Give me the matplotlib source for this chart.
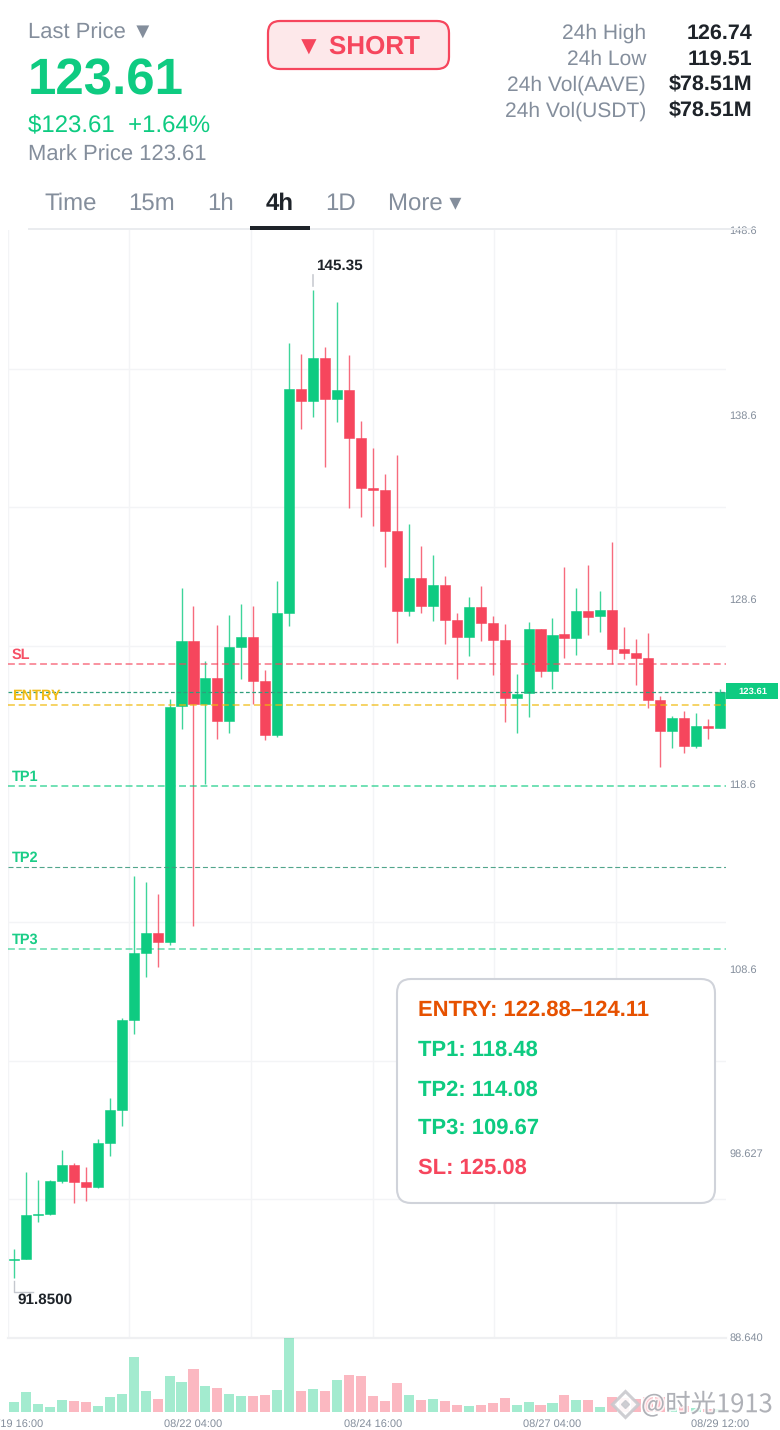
"""
AAVE/USDT 4h candle screen with short signal levels.
"""

from __future__ import annotations

import matplotlib

matplotlib.use("Agg")  # no display
import matplotlib.patheffects as pe
import matplotlib.pyplot as plt
from matplotlib.patches import FancyBboxPatch, Rectangle

# candles, oldest first
opens = [
    92.80, 92.87, 95.25, 95.29, 97.11, 97.96, 97.04, 96.79, 99.17, 100.94,
    105.82, 109.45, 110.51, 110.06, 122.83, 126.35, 122.93, 124.34, 122.03, 126.04,
    126.56, 124.16, 121.27, 127.86, 140.00, 139.35, 141.66, 139.44, 139.93, 137.34,
    134.62, 134.53, 132.32, 127.97, 129.78, 128.23, 129.38, 127.47, 126.55, 128.17,
    127.32, 126.40, 123.27, 123.51, 126.98, 124.72, 126.71, 126.51, 127.96, 127.68,
    128.03, 125.90, 125.70, 125.42, 123.15, 121.47, 122.16, 120.66, 121.73, 121.65,
]
highs = [
    93.41, 97.60, 97.15, 97.15, 98.77, 98.07, 97.85, 99.37, 101.59, 105.92,
    113.62, 113.29, 112.64, 123.20, 129.22, 128.24, 125.26, 127.21, 127.75, 128.35,
    128.24, 124.78, 129.60, 142.51, 141.91, 145.35, 142.29, 144.73, 141.84, 138.26,
    136.80, 135.39, 136.42, 132.67, 131.51, 131.01, 129.87, 127.85, 128.71, 129.31,
    127.68, 127.25, 124.56, 127.36, 127.00, 127.61, 130.37, 129.20, 130.46, 129.05,
    131.69, 127.10, 126.47, 126.76, 123.37, 122.30, 122.54, 122.46, 122.10, 123.73,
]
lows = [
    91.85, 92.85, 94.89, 95.25, 96.99, 95.90, 96.03, 96.72, 98.46, 100.09,
    105.06, 108.16, 108.67, 109.88, 121.58, 110.92, 118.60, 121.04, 121.35, 124.30,
    122.93, 120.98, 121.16, 127.16, 137.85, 138.48, 135.79, 138.19, 133.57, 133.08,
    132.59, 130.36, 126.24, 127.72, 127.88, 127.43, 126.18, 124.27, 125.53, 126.36,
    124.52, 121.97, 121.35, 122.21, 124.38, 123.75, 125.44, 125.59, 126.67, 126.85,
    125.10, 125.37, 123.95, 122.70, 119.52, 120.57, 120.26, 120.57, 121.02, 121.62,
]
closes = [
    92.85, 95.25, 95.30, 97.09, 97.96, 97.06, 96.79, 99.17, 100.94, 105.82,
    109.45, 110.51, 110.06, 122.79, 126.35, 122.93, 124.34, 122.03, 126.01, 126.56,
    124.16, 121.27, 127.86, 140.00, 139.35, 141.66, 139.46, 139.93, 137.34, 134.62,
    134.53, 132.32, 127.97, 129.78, 128.23, 129.38, 127.47, 126.55, 128.20, 127.32,
    126.40, 123.27, 123.49, 126.98, 124.72, 126.69, 126.53, 127.96, 127.66, 128.03,
    125.91, 125.71, 125.44, 123.17, 121.49, 122.16, 120.64, 121.73, 121.63, 123.61,
]
volumes = [
    10, 19.7, 8, 5.3, 12.3, 11, 9.7, 6, 15, 17.7,
    55.3, 21, 13, 36, 30, 43, 25.7, 23.7, 18, 16,
    15.7, 16.7, 21.7, 74, 21, 23, 21, 32, 37.3, 35.7,
    15.7, 10.7, 28.7, 16.7, 12, 13, 10.7, 7, 6, 7,
    9, 14.3, 7.3, 10, 7.3, 8.7, 17, 12.3, 12, 4.7,
    14.7, 14, 13, 15.3, 15.3, 3.7, 6, 4, 3, 3.3,
]

price_ticks = [148.6, 138.6, 128.6, 118.6, 108.6, 98.627, 88.640]
price_tick_labels = ["148.6", "138.6", "128.6", "118.6", "108.6", "98.627", "88.640"]
grid_prices = [141.1, 133.6, 126.1, 118.6, 111.1, 103.6, 96.1]
grid_candles = [-0.5, 9.65, 19.8, 30.0, 40.1, 50.3]
date_ticks = [0, 15, 30, 45, 59]
date_labels = ["08/19 16:00", "08/22 04:00", "08/24 16:00", "08/27 04:00", "08/29 12:00"]

last_price = 123.61
high_candle, high_price = 25, 145.35
low_candle, low_price = 0, 91.85

level_names = ["SL", "ENTRY", "TP1", "TP2", "TP3"]
level_prices = [125.08, 122.88, 118.48, 114.08, 109.67]

stat_names = ["24h High", "24h Low", "24h Vol(AAVE)", "24h Vol(USDT)"]
stat_values = ["126.74", "119.51", "$78.51M", "$78.51M"]
tab_names = ["Time", "15m", "1h", "4h", "1D", "More ▾"]
signal_lines = ["ENTRY: 122.88–124.11", "TP1: 118.48", "TP2: 114.08", "TP3: 109.67", "SL: 125.08"]

GREEN = "#0ecb81"
RED = "#f6465d"
YELLOW = "#f0b90b"
ORANGE = "#e65100"
GRAY = "#848e9c"
DARK = "#1e2329"
GRID = "#f3f4f6"
W, H = 780, 1430
SANS = ["Liberation Sans", "DejaVu Sans"]

plt.rcParams["font.family"] = SANS
plt.rcParams["text.hinting"] = "no_hinting"


def px(size):
    return size * 0.72


def axes_box(left, top, right, bottom):
    return [left / W, 1 - bottom / H, (right - left) / W, (bottom - top) / H]


fig = plt.figure(figsize=(W / 100, H / 100), dpi=100, facecolor="white")

# price panel
ax = fig.add_axes(axes_box(8, 230, 726, 1338))
ax.set_xlim(-0.5, 59.5)
ax.set_ylim(88.59, 148.61)
for s in ax.spines.values():
    s.set_visible(False)
ax.yaxis.tick_right()
ax.set_yticks(price_ticks, price_tick_labels)
ax.set_yticks(grid_prices, minor=True)
ax.set_xticks(grid_candles, minor=True)
ax.set_xticks([])
ax.tick_params(axis="y", which="major", length=0, pad=2.5, labelsize=px(11), labelcolor=GRAY)
ax.tick_params(which="minor", length=0)
ax.grid(which="minor", color=GRID, linewidth=1.0)
ax.set_axisbelow(True)

for i in range(len(opens)):
    up = closes[i] >= opens[i]
    color = GREEN if up else RED
    ax.vlines(i, lows[i], highs[i], color=color, linewidth=1.0, alpha=0.8, zorder=2)
    body = max(abs(closes[i] - opens[i]), 0.06)
    ax.bar(i, body, bottom=min(opens[i], closes[i]), width=0.84, color=color,
           edgecolor=color, linewidth=0.4, zorder=3)

# signal levels
level_colors = [RED, YELLOW, GREEN, "#3f9c80", GREEN]
level_alpha = [0.75, 0.8, 0.75, 0.9, 0.65]
level_width = [1.1, 1.1, 1.1, 0.8, 1.1]
for name, price, c, a, lw in zip(level_names, level_prices, level_colors, level_alpha, level_width):
    ax.axhline(price, color=c, linewidth=lw, alpha=a, linestyle=(0, (4.5, 2.5)), zorder=4)
    text_color = RED if name == "SL" else YELLOW if name == "ENTRY" else GREEN
    ax.annotate(name, (0, price), xycoords=("axes fraction", "data"), xytext=(2.7, 1.5),
                textcoords="offset points", color=text_color, fontsize=px(14.5),
                fontweight="bold", va="bottom", alpha=0.95, zorder=5)
ax.axhline(last_price, color="#2f9e7c", linewidth=0.9, linestyle=(0, (3, 2)), zorder=4)

# high / low markers
ax.annotate(f"{high_price:.2f}", (high_candle, high_price), xytext=(26, 24),
            textcoords="offset pixels", ha="center", va="center", color=DARK,
            fontsize=px(15.3), fontweight="bold")
ax.plot([high_candle, high_candle], [high_price + 0.2, high_price + 0.8], color="#c9ccd2", lw=1.2)
ax.plot([low_candle, low_candle, low_candle + 1.6], [low_price - 0.15, low_price - 0.75, low_price - 0.75],
        color="#c4c7ce", lw=1.0)
ax.annotate(f"{low_price:.4f}", (low_candle, low_price), xytext=(3, -22),
            textcoords="offset pixels", ha="left", va="center", color=DARK,
            fontsize=px(15.3), fontweight="bold")

# volume panel
vax = fig.add_axes(axes_box(8, 1338, 726, 1412))
vax.set_xlim(-0.5, 59.5)
vax.set_ylim(0, 74)
vol_colors = [GREEN if c >= o else RED for o, c in zip(opens, closes)]
vax.bar(range(len(volumes)), volumes, width=0.84, color=vol_colors, alpha=0.38)
vax.axhline(74, color="#eff0f2", linewidth=1.6, clip_on=False, zorder=0)
for s in vax.spines.values():
    s.set_visible(False)
vax.set_yticks([])
vax.set_xticks(date_ticks, date_labels)
vax.tick_params(axis="x", length=0, pad=5.5, labelsize=px(11), labelcolor=GRAY)

# page chrome, in pixels
ui = fig.add_axes([0, 0, 1, 1], facecolor="none")
ui.set_xlim(0, W)
ui.set_ylim(H, 0)
ui.axis("off")

ui.add_patch(Rectangle((0, 0), W, 226, facecolor="white", edgecolor="none"))
ui.text(28, 33, "Last Price ▼", color=GRAY, fontsize=px(22), va="center")
ui.text(28, 81, "123.61", color=GREEN, fontsize=px(51), fontweight="bold", va="center")
ui.text(28, 126, "$123.61  +1.64%", color=GREEN, fontsize=px(24), va="center")
ui.text(28, 155, "Mark Price 123.61", color=GRAY, fontsize=px(22), va="center")

ui.add_patch(FancyBboxPatch((268, 21), 181, 48, boxstyle="round,pad=0,rounding_size=12",
                            facecolor="#fde8ea", edgecolor=RED, linewidth=1.6))
ui.text(358, 47, "▼ SHORT", color=RED, fontsize=px(26), fontweight="bold", ha="center", va="center")

for y, name, value in zip([33, 59, 85, 111], stat_names, stat_values):
    ui.text(646, y, name, color=GRAY, fontsize=px(21), ha="right", va="center")
    ui.text(752, y, value, color=DARK, fontsize=px(21.5), fontweight="bold", ha="right", va="center")

for x, name in zip([44, 128, 207, 266, 325, 388], tab_names):
    active = name == "4h"
    ui.text(x, 204, name, color=DARK if active else GRAY, fontsize=px(24),
            fontweight="bold" if active else "normal", va="center")
ui.add_patch(Rectangle((28, 228), 724, 2, facecolor="#eaecef", edgecolor="none"))
ui.add_patch(Rectangle((250, 226), 60, 4, facecolor=DARK, edgecolor="none"))

# last price tag
ui.add_patch(Rectangle((726, 683), 52, 16, facecolor=GREEN, edgecolor="none"))
ui.text(752.5, 692, f"{last_price:.2f}", color="white", fontsize=px(9.5), fontweight="bold",
        ha="center", va="center")

# signal card
ui.add_patch(FancyBboxPatch((397, 979), 318, 224, boxstyle="round,pad=0,rounding_size=14",
                            facecolor="white", edgecolor="#d0d3da", linewidth=1.5))
card_colors = [ORANGE, GREEN, GREEN, GREEN, RED]
for y, line, c in zip([1010, 1050, 1090, 1128, 1168], signal_lines, card_colors):
    ui.text(418, y, line, color=c, fontsize=px(22), fontweight="bold", va="center")

# watermark
halo = [pe.withStroke(linewidth=2.5, foreground="white", alpha=0.8)]
ui.plot([625], [1404], marker="D", markersize=13, markerfacecolor="white",
        markeredgecolor="#c9c9ce", markeredgewidth=2.2, alpha=0.9)
ui.plot([625], [1404], marker="D", markersize=4, color="#c9c9ce", alpha=0.9)
ui.text(641, 1405, "@时光1913", color="#a4a6ad", fontsize=px(25.5), va="center", alpha=0.85,
        family=["Noto Sans CJK SC", "DejaVu Sans"], path_effects=halo)

fig.savefig("out.png", dpi=100)
plt.close(fig)
